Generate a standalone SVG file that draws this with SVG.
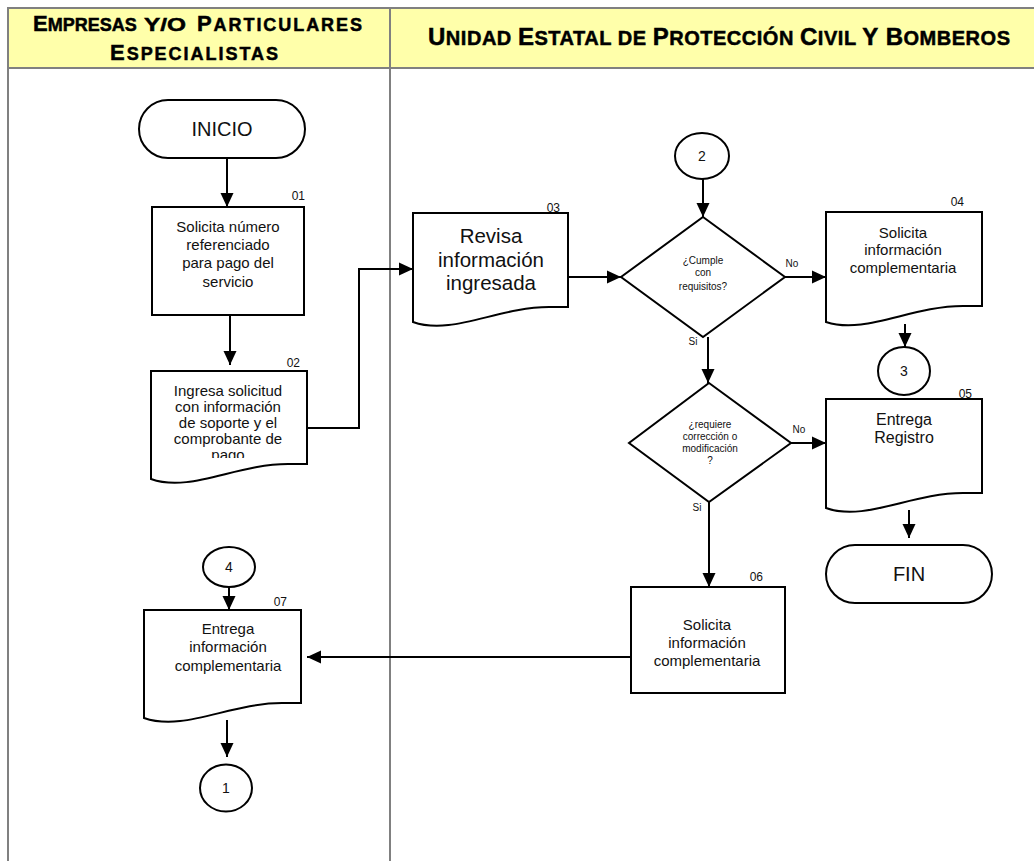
<svg xmlns="http://www.w3.org/2000/svg" width="1034" height="861" viewBox="0 0 1034 861">
<style>
text{font-family:"Liberation Sans",Arial,sans-serif;fill:#111;}
.hd{font-weight:bold;fill:#000;stroke:#000;stroke-width:0.5;}
.shape{fill:#fff;stroke:#000;stroke-width:2;}
.conn{fill:none;stroke:#000;stroke-width:2;}
.lane{fill:none;stroke:#808080;stroke-width:2;}
.t15{font-size:15px;text-anchor:middle;}
.num{font-size:12px;text-anchor:end;}
.dia{font-size:10px;text-anchor:middle;}
.lbl{font-size:10px;text-anchor:middle;}
.cn{font-size:14px;text-anchor:middle;}
</style>
<defs>
<marker id="ah" markerUnits="userSpaceOnUse" markerWidth="14" markerHeight="14" viewBox="0 0 14 14" refX="14" refY="7" orient="auto">
<path d="M0,0.5 L14,7 L0,13.5 Z" fill="#000"/>
</marker>
<clipPath id="clip02"><rect x="151" y="371" width="156" height="87"/></clipPath>
</defs>

<g id="lanes">
<rect x="8" y="8" width="1040" height="60" fill="#FFFFAA" stroke="#808080" stroke-width="2"/>
<line class="lane" x1="8" y1="68" x2="8" y2="861"/>
<line class="lane" x1="390" y1="8" x2="390" y2="861"/>
<text class="hd" x="33" y="30.5"><tspan font-size="22">E</tspan><tspan font-size="18">MPRESAS</tspan></text>
<text class="hd" x="144" y="30.5" font-size="19" textLength="42" lengthAdjust="spacingAndGlyphs">Y/O</text>
<text class="hd" x="197" y="30.5" textLength="165" lengthAdjust="spacing"><tspan font-size="22">P</tspan><tspan font-size="18">ARTICULARES</tspan></text>
<text class="hd" x="110" y="60" textLength="168" lengthAdjust="spacing"><tspan font-size="22">E</tspan><tspan font-size="18">SPECIALISTAS</tspan></text>
<text class="hd" x="428" y="44.5" textLength="582" lengthAdjust="spacing"><tspan font-size="24">U</tspan><tspan font-size="20">NIDAD </tspan><tspan font-size="24">E</tspan><tspan font-size="20">STATAL DE </tspan><tspan font-size="24">P</tspan><tspan font-size="20">ROTECCIÓN </tspan><tspan font-size="24">C</tspan><tspan font-size="20">IVIL </tspan><tspan font-size="24">Y B</tspan><tspan font-size="20">OMBEROS</tspan></text>
</g>

<g id="connectors">
<path class="conn" d="M227,158 V207" marker-end="url(#ah)"/>
<path class="conn" d="M230,315 V365" marker-end="url(#ah)"/>
<path class="conn" d="M307,428 H359 V269 H413" marker-end="url(#ah)"/>
<path class="conn" d="M568,277 H621" marker-end="url(#ah)"/>
<path class="conn" d="M703,179 V217" marker-end="url(#ah)"/>
<path class="conn" d="M783,277 H826" marker-end="url(#ah)"/>
<path class="conn" d="M905,324 V347" marker-end="url(#ah)"/>
<path class="conn" d="M708,337 V383" marker-end="url(#ah)"/>
<path class="conn" d="M791,443 H826" marker-end="url(#ah)"/>
<path class="conn" d="M909,510 V538" marker-end="url(#ah)"/>
<path class="conn" d="M709,502 V587" marker-end="url(#ah)"/>
<path class="conn" d="M631,657 H307" marker-end="url(#ah)"/>
<path class="conn" d="M229,587 V610" marker-end="url(#ah)"/>
<path class="conn" d="M227,720 V757" marker-end="url(#ah)"/>
<text class="lbl" x="792" y="267">No</text>
<text class="lbl" x="799" y="433">No</text>
<text class="lbl" x="693" y="345">Si</text>
<text class="lbl" x="697" y="511">Si</text>
</g>

<g id="inicio">
<rect class="shape" x="139" y="100" width="166" height="58" rx="29" ry="29"/>
<text x="222" y="136" font-size="20" text-anchor="middle">INICIO</text>
</g>

<g id="n01">
<rect class="shape" x="152" y="207" width="152" height="108"/>
<text class="num" x="305" y="200">01</text>
<text class="t15" x="228" y="232">Solicita número</text>
<text class="t15" x="228" y="250">referenciado</text>
<text class="t15" x="228" y="268">para pago del</text>
<text class="t15" x="228" y="287">servicio</text>
</g>

<g id="n02">
<path class="shape" d="M151,371 H307 V464 H288 C236,464 190,493 151,479 Z"/>
<text class="num" x="300" y="367">02</text>
<g clip-path="url(#clip02)">
<text class="t15" x="228" y="396" font-size="14.5">Ingresa solicitud</text>
<text class="t15" x="228" y="412" font-size="14.5">con información</text>
<text class="t15" x="228" y="428" font-size="14.5">de soporte y el</text>
<text class="t15" x="228" y="444" font-size="14.5">comprobante de</text>
<text class="t15" x="228" y="460" font-size="14.5">pago</text>
</g>
</g>

<g id="n03">
<path class="shape" d="M413,213 H568 V307 H549 C498,307 452,336 413,322 Z"/>
<text class="num" x="560" y="212">03</text>
<text x="491" y="243" font-size="20.5" text-anchor="middle">Revisa</text>
<text x="491" y="267" font-size="20.5" text-anchor="middle">información</text>
<text x="491" y="290" font-size="20.5" text-anchor="middle">ingresada</text>
</g>

<g id="c2">
<ellipse class="shape" cx="702" cy="156" rx="27" ry="23"/>
<text class="cn" x="702" y="161">2</text>
</g>

<g id="d1">
<path class="shape" d="M703,217 L785,277 L703,337 L621,277 Z"/>
<text class="dia" x="703" y="264">¿Cumple</text>
<text class="dia" x="703" y="276">con</text>
<text class="dia" x="703" y="290">requisitos?</text>
</g>

<g id="n04">
<path class="shape" d="M826,212 H982 V306 H963 C911,306 865,335 826,322 Z"/>
<text class="num" x="964" y="206">04</text>
<text class="t15" x="903" y="238">Solicita</text>
<text class="t15" x="903" y="255">información</text>
<text class="t15" x="903" y="273">complementaria</text>
</g>

<g id="c3">
<ellipse class="shape" cx="904" cy="371" rx="26" ry="24"/>
<text class="cn" x="904" y="376">3</text>
</g>

<g id="d2">
<path class="shape" d="M709,383 L791,443 L709,502 L629,443 Z"/>
<text class="dia" x="710" y="428">¿requiere</text>
<text class="dia" x="710" y="440">corrección o</text>
<text class="dia" x="710" y="452">modificación</text>
<text class="dia" x="710" y="464">?</text>
</g>

<g id="n05">
<path class="shape" d="M826,399 H982 V493 H963 C911,493 865,522 826,508 Z"/>
<text class="num" x="972" y="398">05</text>
<text x="904" y="425" font-size="16" text-anchor="middle">Entrega</text>
<text x="904" y="443" font-size="16" text-anchor="middle">Registro</text>
</g>

<g id="fin">
<rect class="shape" x="826" y="545" width="166" height="58" rx="29" ry="29"/>
<text x="909" y="581" font-size="20" text-anchor="middle">FIN</text>
</g>

<g id="n06">
<rect class="shape" x="631" y="587" width="154" height="106"/>
<text class="num" x="763" y="581">06</text>
<text class="t15" x="707" y="630">Solicita</text>
<text class="t15" x="707" y="648">información</text>
<text class="t15" x="707" y="666">complementaria</text>
</g>

<g id="c4">
<ellipse class="shape" cx="229" cy="567" rx="26" ry="20"/>
<text class="cn" x="229" y="572">4</text>
</g>

<g id="n07">
<path class="shape" d="M144,610 H301 V703 H282 C230,703 184,732 144,718 Z"/>
<text class="num" x="287" y="606">07</text>
<text class="t15" x="228" y="634">Entrega</text>
<text class="t15" x="228" y="652">información</text>
<text class="t15" x="228" y="671">complementaria</text>
</g>

<g id="c1">
<ellipse class="shape" cx="226" cy="788" rx="26" ry="23.5"/>
<text class="cn" x="226" y="793">1</text>
</g>
</svg>
